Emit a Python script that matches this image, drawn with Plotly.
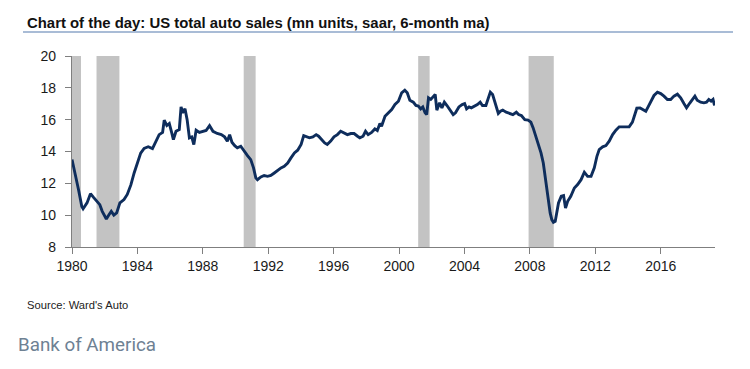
import plotly.graph_objects as go

# ---- data ----
years = [1980.0, 1980.2, 1980.4, 1980.6, 1980.68, 1980.92, 1981.13, 1981.33, 1981.54, 1981.7,
         1981.85, 1982.1, 1982.26, 1982.4, 1982.56, 1982.73, 1982.93, 1983.18, 1983.38, 1983.6,
         1983.8, 1984.0, 1984.2, 1984.41, 1984.66, 1984.92, 1985.13, 1985.33, 1985.54, 1985.64,
         1985.8, 1985.95, 1986.1, 1986.2, 1986.36, 1986.56, 1986.67, 1986.77, 1986.91, 1987.04,
         1987.18, 1987.32, 1987.45, 1987.59, 1987.79, 1988.0, 1988.2, 1988.41, 1988.62, 1988.88,
         1989.13, 1989.33, 1989.5, 1989.64, 1989.78, 1989.95, 1990.11, 1990.32, 1990.52, 1990.73,
         1990.93, 1991.1, 1991.24, 1991.34, 1991.55, 1991.75, 1991.96, 1992.16, 1992.37, 1992.57,
         1992.78, 1992.98, 1993.19, 1993.39, 1993.6, 1993.8, 1994.01, 1994.17, 1994.32, 1994.52,
         1994.73, 1994.93, 1995.08, 1995.24, 1995.45, 1995.61, 1995.82, 1996.02, 1996.23, 1996.43,
         1996.64, 1996.84, 1997.05, 1997.25, 1997.46, 1997.6, 1997.8, 1997.95, 1998.11, 1998.32,
         1998.52, 1998.67, 1998.83, 1998.93, 1999.14, 1999.34, 1999.55, 1999.75, 1999.96, 2000.16,
         2000.35, 2000.5, 2000.66, 2000.87, 2001.03, 2001.18, 2001.32, 2001.45, 2001.59, 2001.69,
         2001.8, 2001.94, 2002.07, 2002.21, 2002.31, 2002.48, 2002.62, 2002.77, 2002.93, 2003.1,
         2003.31, 2003.45, 2003.66, 2003.86, 2004.01, 2004.13, 2004.28, 2004.42, 2004.63, 2004.79,
         2004.96, 2005.1, 2005.31, 2005.45, 2005.58, 2005.72, 2005.87, 2005.99, 2006.07, 2006.2,
         2006.34, 2006.55, 2006.76, 2006.96, 2007.17, 2007.31, 2007.48, 2007.69, 2007.89, 2008.06,
         2008.2, 2008.35, 2008.51, 2008.68, 2008.82, 2008.93, 2009.03, 2009.13, 2009.24, 2009.34,
         2009.44, 2009.55, 2009.65, 2009.75, 2009.92, 2010.06, 2010.18, 2010.31, 2010.5, 2010.72,
         2010.92, 2011.13, 2011.33, 2011.53, 2011.74, 2011.94, 2012.1, 2012.24, 2012.45, 2012.65,
         2012.85, 2013.06, 2013.26, 2013.46, 2013.66, 2013.87, 2014.07, 2014.27, 2014.42, 2014.54,
         2014.74, 2014.94, 2015.09, 2015.23, 2015.39, 2015.59, 2015.8, 2016.0, 2016.2, 2016.41,
         2016.61, 2016.81, 2017.02, 2017.22, 2017.42, 2017.58, 2017.79, 2017.99, 2018.09, 2018.23,
         2018.44, 2018.64, 2018.8, 2018.94, 2019.08, 2019.2, 2019.29]

sales = [13.5, 12.65, 11.6, 10.55, 10.4, 10.77, 11.35, 11.1, 10.87, 10.66,
         10.24, 9.76, 10.03, 10.24, 10.0, 10.14, 10.77, 10.98, 11.3, 11.9,
         12.65, 13.28, 13.9, 14.2, 14.3, 14.18, 14.65, 15.06, 15.2, 15.97,
         15.63, 15.76, 15.17, 14.75, 15.27, 15.38, 16.8, 16.43, 16.68, 16.0,
         14.86, 14.92, 14.44, 15.34, 15.2, 15.27, 15.32, 15.63, 15.27, 15.13,
         15.06, 14.92, 14.65, 15.06, 14.58, 14.37, 14.23, 14.33, 14.0, 13.74,
         13.49, 12.97, 12.34, 12.23, 12.4, 12.49, 12.44, 12.49, 12.65, 12.82,
         12.97, 13.07, 13.28, 13.6, 13.91, 14.08, 14.44, 15.0, 14.92, 14.86,
         14.92, 15.06, 14.96, 14.75, 14.54, 14.44, 14.65, 14.92, 15.06, 15.27,
         15.17, 15.06, 15.13, 15.13, 14.96, 14.86, 14.96, 15.27, 15.06, 15.2,
         15.42, 15.32, 15.76, 15.59, 16.22, 16.43, 16.64, 16.95, 17.16, 17.69,
         17.85, 17.69, 17.22, 17.1, 16.89, 16.85, 16.68, 16.8, 16.43, 16.32,
         17.37, 17.27, 17.43, 17.58, 16.6, 17.06, 16.74, 17.1, 16.89, 16.6,
         16.32, 16.43, 16.8, 16.95, 17.01, 16.68, 16.8, 16.74, 16.85, 16.95,
         17.1, 16.89, 16.89, 17.31, 17.73, 17.58, 17.1, 16.8, 16.39, 16.53,
         16.6, 16.47, 16.39, 16.32, 16.47, 16.32, 16.26, 16.0, 15.97, 15.84,
         15.48, 15.0, 14.44, 13.91, 13.28, 12.44, 11.5, 10.73, 10.14, 9.72,
         9.55, 9.61, 10.14, 10.77, 11.19, 11.23, 10.45, 10.87, 11.19, 11.71,
         11.92, 12.23, 12.7, 12.44, 12.44, 12.97, 13.7, 14.12, 14.29, 14.37,
         14.65, 15.06, 15.34, 15.55, 15.55, 15.55, 15.55, 15.84, 16.43, 16.72,
         16.74, 16.64, 16.53, 16.8, 17.16, 17.52, 17.73, 17.64, 17.48, 17.27,
         17.27, 17.48, 17.6, 17.37, 17.01, 16.74, 17.06, 17.37, 17.48, 17.22,
         17.1, 17.06, 17.1, 17.27, 17.16, 17.27, 16.89]

recession_start = [1980.0, 1981.5, 1990.5, 2001.17, 2007.92]
recession_end = [1980.55, 1982.9, 1991.23, 2001.87, 2009.46]

x_ticks = [1980, 1984, 1988, 1992, 1996, 2000, 2004, 2008, 2012, 2016]
x_tick_labels = [str(v) for v in x_ticks]
y_ticks = [8, 10, 12, 14, 16, 18, 20]

title_text = "Chart of the day: US total auto sales (mn units, saar, 6-month ma)"
source_text = "Source: Ward's Auto"
brand_text = "Bank of America"

# ---- figure ----
W, H = 750, 369
L, R, T, B = 72, 35, 56, 122
pw, ph = W - L - R, H - T - B

def px_to_paper_x(px):
    return (px - L) / pw

def px_to_paper_y(py):
    return (H - B - py) / ph

fig = go.Figure()

fig.add_trace(go.Scatter(
    x=years, y=sales, mode="lines",
    line=dict(color="#0E2D5C", width=2.9, shape="linear"),
    hoverinfo="skip", showlegend=False,
))

shapes = []
for s, e in zip(recession_start, recession_end):
    shapes.append(dict(type="rect", xref="x", yref="paper", x0=s, x1=e, y0=0, y1=1,
                       fillcolor="#C3C3C3", line=dict(width=0), layer="below"))

# rule under the title
shapes.append(dict(type="line", xref="paper", yref="paper",
                   x0=px_to_paper_x(23), x1=px_to_paper_x(733),
                   y0=px_to_paper_y(32), y1=px_to_paper_y(32),
                   line=dict(color="#8CA6C9", width=1.6)))

annotations = [
    dict(text="<b>" + title_text + "</b>", xref="paper", yref="paper",
         x=px_to_paper_x(25), y=px_to_paper_y(22.5), xanchor="left", yanchor="middle",
         showarrow=False, font=dict(family="Liberation Sans, Arial, sans-serif",
                                    size=14.9, color="#111111")),
    dict(text=source_text, xref="paper", yref="paper",
         x=px_to_paper_x(25), y=px_to_paper_y(305), xanchor="left", yanchor="middle",
         showarrow=False, font=dict(family="Liberation Sans, Arial, sans-serif",
                                    size=11.2, color="#222222")),
    dict(text=brand_text, xref="paper", yref="paper",
         x=px_to_paper_x(16), y=px_to_paper_y(345), xanchor="left", yanchor="middle",
         showarrow=False, font=dict(family="Roboto, Open Sans, sans-serif",
                                    size=18.8, color="#6E8193")),
]

fig.update_layout(
    width=W, height=H,
    margin=dict(l=L, r=R, t=T, b=B, pad=0),
    paper_bgcolor="white", plot_bgcolor="white",
    shapes=shapes, annotations=annotations,
    showlegend=False,
    font=dict(family="Liberation Sans, Arial, sans-serif", size=14, color="#1A1A1A"),
)

fig.update_xaxes(
    range=[1980, 2019.32], tickmode="array", tickvals=x_ticks, ticktext=x_tick_labels,
    showgrid=False, zeroline=False, showline=True, linecolor="#7F7F7F", linewidth=1.3,
    ticks="outside", ticklen=6, tickcolor="#7F7F7F", tickwidth=1.3,
    tickfont=dict(size=14, color="#1A1A1A"), fixedrange=True,
)
fig.update_yaxes(
    range=[8, 20], tickmode="array", tickvals=y_ticks,
    showgrid=False, zeroline=False, showline=True, linecolor="#7F7F7F", linewidth=1.3,
    ticks="outside", ticklen=6, tickcolor="#7F7F7F", tickwidth=1.3,
    tickfont=dict(size=14, color="#1A1A1A"), ticklabelstandoff=6, fixedrange=True,
)

fig.write_html("out.html", config={"displayModeBar": False},
               post_script="document.body.style.margin='0';document.body.style.padding='0';")
